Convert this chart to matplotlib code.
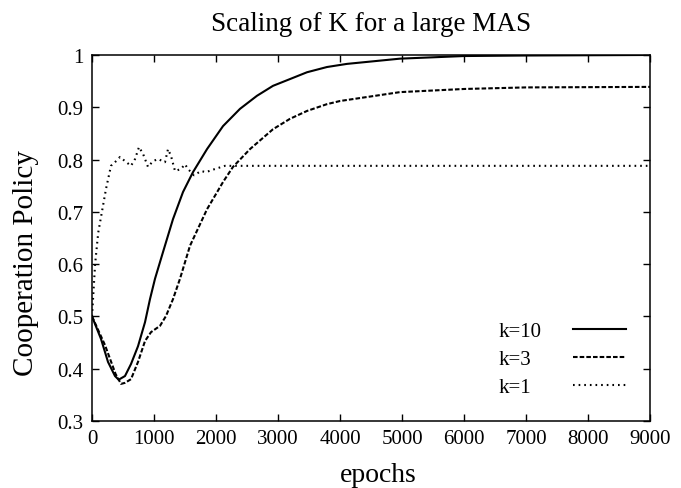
import matplotlib
matplotlib.use("Agg")
import matplotlib.pyplot as plt
from matplotlib.lines import Line2D

plt.rcParams['font.family'] = ['Liberation Serif', 'DejaVu Serif']

# k=10 (solid)
k10_epochs = [0, 145, 258, 371, 430, 532, 629, 742, 855, 935, 1016, 1145, 1306,
              1468, 1629, 1855, 2113, 2387, 2661, 2919, 3194, 3468, 3790, 4113,
              4968, 6000, 7000, 9000]
k10_values = [0.5, 0.457, 0.413, 0.386, 0.379, 0.386, 0.409, 0.443, 0.489, 0.533,
              0.572, 0.623, 0.686, 0.738, 0.776, 0.820, 0.864, 0.897, 0.922, 0.941,
              0.954, 0.967, 0.977, 0.983, 0.993, 0.998, 0.999, 1.0]

# k=3 (dashed)
k3_epochs = [0, 210, 380, 468, 532, 629, 742, 855, 952, 1097, 1194, 1306, 1419,
             1580, 1855, 2113, 2274, 2548, 2919, 3194, 3468, 3790, 4000, 4968,
             6000, 7000, 9000]
k3_values = [0.5, 0.445, 0.390, 0.371, 0.373, 0.380, 0.413, 0.453, 0.470, 0.482,
             0.501, 0.533, 0.572, 0.635, 0.705, 0.757, 0.786, 0.820, 0.858, 0.878,
             0.893, 0.906, 0.912, 0.929, 0.935, 0.938, 0.939]

# k=1 (dotted)
k1_epochs = [0, 50, 100, 145, 226, 306, 371, 452, 532, 629, 694, 758, 823, 903,
             984, 1065, 1177, 1226, 1274, 1339, 1435, 1500, 1548, 1645, 1758,
             1839, 1984, 2145, 2306, 9000]
k1_values = [0.5, 0.6, 0.66, 0.69, 0.744, 0.788, 0.795, 0.805, 0.797, 0.788, 0.801,
             0.824, 0.811, 0.786, 0.797, 0.801, 0.795, 0.820, 0.807, 0.778, 0.782,
             0.791, 0.782, 0.770, 0.778, 0.776, 0.782, 0.788, 0.788, 0.788]

series_labels = ['k=10', 'k=3', 'k=1']
x_ticks = list(range(0, 9001, 1000))
y_ticks = [0.3, 0.4, 0.5, 0.6, 0.7, 0.8, 0.9, 1.0]
y_tick_labels = ['0.3', '0.4', '0.5', '0.6', '0.7', '0.8', '0.9', '1']

styles = ['-', (0, (2.2, 1.0)), (0, (0.8, 1.9))]

fig = plt.figure(figsize=(6.81, 4.89), dpi=100)
ax = fig.add_axes([0.1351, 0.137, 0.8194, 0.7485])

series = [(k10_epochs, k10_values), (k3_epochs, k3_values), (k1_epochs, k1_values)]
for (xs, ys), ls, label in zip(series, styles, series_labels):
    ax.plot(xs, ys, color='black', lw=1.5, ls=ls, label=label)

ax.set_xlim(0, 9000)
ax.set_ylim(0.3, 1.0)
ax.set_xticks(x_ticks)
ax.set_yticks(y_ticks)
ax.set_yticklabels(y_tick_labels)
ax.tick_params(direction='in', top=True, right=True, length=5, width=1,
               labelsize=15)
ax.tick_params(axis='x', pad=6)
ax.tick_params(axis='y', pad=6)
for spine in ax.spines.values():
    spine.set_linewidth(1.1)

ax.set_title('Scaling of K for a large MAS', fontsize=19.5, pad=18)
ax.set_xlabel('epochs', fontsize=20, labelpad=10, x=0.513)
ax.set_ylabel('Cooperation Policy', fontsize=21, labelpad=13, y=0.434)

# key, gnuplot style: labels left aligned, sample lines to the right
for i, (ls, label) in enumerate(zip(styles, series_labels)):
    y = 0.232 - i * 0.0765
    ax.text(0.728, y, label, transform=ax.transAxes, ha='left', va='baseline',
            fontsize=15)
    ax.add_line(Line2D([0.862, 0.957], [y + 0.019, y + 0.019],
                       transform=ax.transAxes, color='black', lw=1.5, ls=ls))

fig.savefig('out.png', dpi=100)
